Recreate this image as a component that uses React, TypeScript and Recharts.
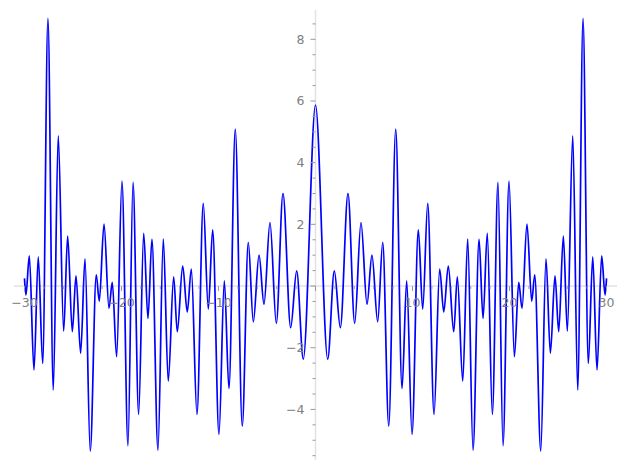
import React from 'react';
import { LineChart, Line, XAxis, YAxis, ReferenceLine, ReferenceDot } from 'recharts';

// extrema of the curve (x, y)
const xs = [
  -30, -29.85, -29.5, -29.02, -28.58, -28.12, -27.58, -27.03, -26.52, -25.96,
  -25.55, -25.07, -24.69, -24.21, -23.76, -23.22, -22.6, -22.29, -21.8, -21.29,
  -20.95, -20.5, -19.95, -19.33, -18.81, -18.23, -17.71, -17.27, -16.86, -16.24,
  -15.69, -15.18, -14.62, -14.25, -13.69, -13.22, -12.8, -12.22, -11.57, -11.05,
  -10.6, -9.95, -9.4, -8.92, -8.27, -7.55, -6.93, -6.41, -5.82, -5.31,
  -4.69, -4.04, -3.35, -2.56, -1.94, -1.26,
  0,
  1.26, 1.94, 2.56, 3.35, 4.04, 4.69, 5.31, 5.82, 6.41, 6.93,
  7.55, 8.27, 8.92, 9.4, 9.95, 10.6, 11.05, 11.57, 12.22, 12.8,
  13.22, 13.69, 14.25, 14.62, 15.18, 15.69, 16.24, 16.86, 17.27, 17.71,
  18.23, 18.81, 19.33, 19.95, 20.5, 20.95, 21.29, 21.8, 22.29, 22.6,
  23.22, 23.76, 24.21, 24.69, 25.07, 25.55, 25.96, 26.52, 27.03, 27.58,
  28.12, 28.58, 29.02, 29.5, 29.85, 30,
];

const ys = [
  0.25, -0.29, 0.98, -2.72, 0.95, -2.51, 8.68, -3.37, 4.87, -1.46,
  1.62, -1.48, 0.33, -2.18, 0.88, -5.35, 0.36, -0.49, 2.01, -0.72,
  0.12, -2.29, 3.4, -5.18, 3.36, -4.16, 1.71, -1.05, 1.51, -5.32,
  1.52, -3.08, 0.3, -1.48, 0.65, -0.84, 0.55, -4.16, 2.68, -0.75,
  1.82, -4.81, 0.17, -3.32, 5.09, -4.54, 1.42, -1.16, 1.0, -0.59,
  2.06, -1.21, 3.0, -1.35, 0.49, -2.37,
  5.87,
  -2.37, 0.49, -1.35, 3.0, -1.21, 2.06, -0.59, 1.0, -1.16, 1.42,
  -4.54, 5.09, -3.32, 0.17, -4.81, 1.82, -0.75, 2.68, -4.16, 0.55,
  -0.84, 0.65, -1.48, 0.3, -3.08, 1.52, -5.32, 1.51, -1.05, 1.71,
  -4.16, 3.36, -5.18, 3.4, -2.29, 0.12, -0.72, 2.01, -0.49, 0.36,
  -5.35, 0.88, -2.18, 0.33, -1.48, 1.62, -1.46, 4.87, -3.37, 8.68,
  -2.51, 0.95, -2.72, 0.98, -0.29, 0.25,
];

const xMajorTicks = [-30, -20, -10, 0, 10, 20, 30];
const xMinorTicks = [
  -28, -26, -24, -22, -18, -16, -14, -12, -8, -6, -4, -2,
  2, 4, 6, 8, 12, 14, 16, 18, 22, 24, 26, 28,
];
const yMajorTicks = [-4, -2, 0, 2, 4, 6, 8];
const yMinorTicks = [
  -5.5, -5, -4.5, -3.5, -3, -2.5, -1.5, -1, -0.5, 0.5, 1, 1.5,
  2.5, 3, 3.5, 4.5, 5, 5.5, 6.5, 7, 7.5, 8.5,
];

const data = xs.map((x, i) => ({ x, y: ys[i] }));

const AXIS = '#e2e2e2';
const TICK = '#999999';
const LABEL = '#808080';
const FONT = '"DejaVu Sans", sans-serif';

const fmt = (v: number) => (v < 0 ? '\u2212' + Math.abs(v) : String(v));

const XTick = (len: number, label: boolean) => (p: any) => {
  const v = p.x;
  return (
    <g>
      <line x1={p.cx} y1={p.cy} x2={p.cx} y2={p.cy + len} stroke={TICK} strokeWidth={1} />
      {label && v !== 0 && (
        <text x={p.cx} y={p.cy + 21} textAnchor="middle" fill={LABEL} fontSize={12.5} fontFamily={FONT}>
          {fmt(v)}
        </text>
      )}
    </g>
  );
};

const YTick = (len: number, label: boolean) => (p: any) => {
  const v = p.y;
  return (
    <g>
      <line x1={p.cx - len} y1={p.cy} x2={p.cx} y2={p.cy} stroke={TICK} strokeWidth={1} />
      {label && v !== 0 && (
        <text x={p.cx - 11} y={p.cy + 4.5} textAnchor="end" fill={LABEL} fontSize={12.5} fontFamily={FONT}>
          {fmt(v)}
        </text>
      )}
    </g>
  );
};

export default function App() {
  return (
    <div style={{ position: 'absolute', left: 0, top: 0, background: '#fff' }}>
      <LineChart width={627} height={470} data={data} margin={{ top: 10, right: 10, bottom: 10, left: 14 }}>
        <XAxis dataKey="x" type="number" domain={[-31.08, 31.08]} hide allowDataOverflow />
        <YAxis type="number" domain={[-5.64, 8.95]} hide allowDataOverflow />
        <ReferenceLine y={0} stroke={AXIS} strokeWidth={1.5} />
        <ReferenceLine x={0} stroke={AXIS} strokeWidth={1.5} />
        {xMinorTicks.map((t) => (
          <ReferenceDot key={'xm' + t} x={t} y={0} shape={XTick(3, false)} />
        ))}
        {xMajorTicks.map((t) => (
          <ReferenceDot key={'xM' + t} x={t} y={0} shape={XTick(5, true)} />
        ))}
        {yMinorTicks.map((t) => (
          <ReferenceDot key={'ym' + t} x={0} y={t} shape={YTick(3, false)} />
        ))}
        {yMajorTicks.map((t) => (
          <ReferenceDot key={'yM' + t} x={0} y={t} shape={YTick(5, true)} />
        ))}
        <Line
          type="monotone"
          dataKey="y"
          stroke="#0000ff"
          strokeWidth={1.7}
          dot={false}
          isAnimationActive={false}
        />
      </LineChart>
    </div>
  );
}
